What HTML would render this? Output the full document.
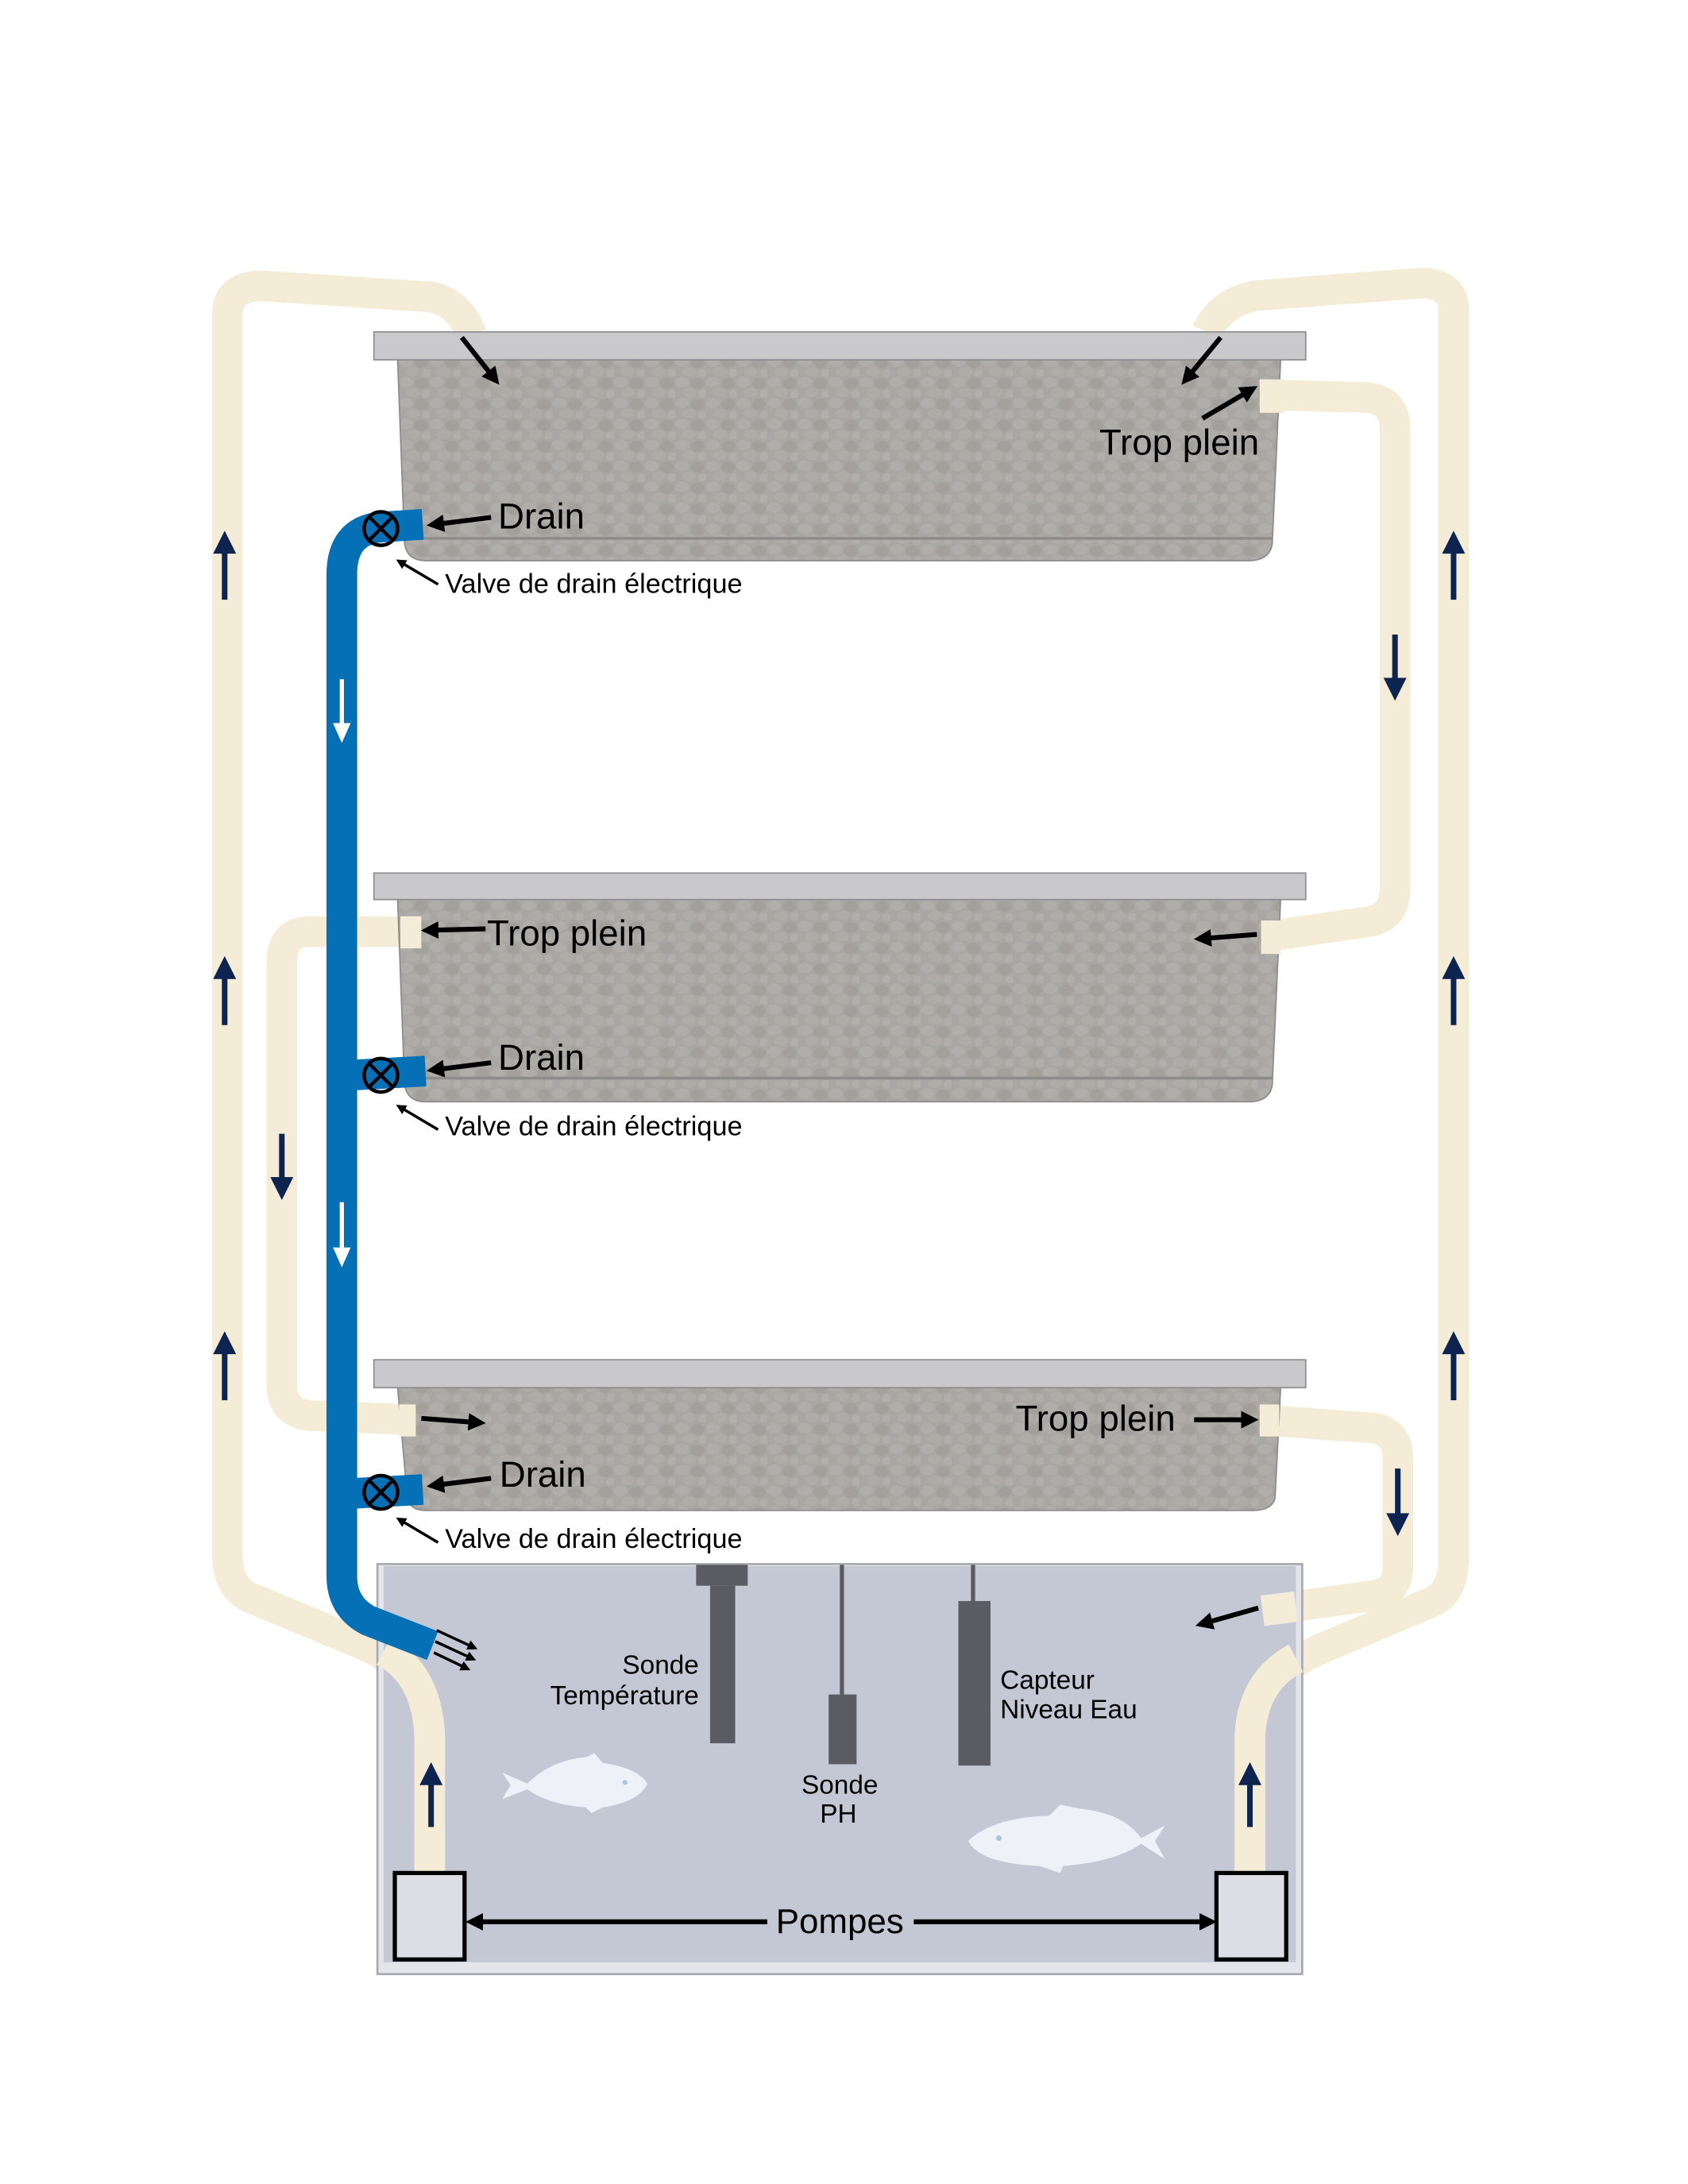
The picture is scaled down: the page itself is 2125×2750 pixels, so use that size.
<!DOCTYPE html>
<html><head><meta charset="utf-8"><style>
html,body{margin:0;padding:0;background:#fff;}
svg{display:block;}
text{font-family:"Liberation Sans",sans-serif;fill:#000;}
</style></head><body>
<svg width="2125" height="2750" viewBox="0 0 1210 1566" xmlns="http://www.w3.org/2000/svg">
<defs>
<pattern id="peb" width="22" height="15" patternUnits="userSpaceOnUse">
<rect width="22" height="15" fill="#a9a7a4"/>
<ellipse cx="5" cy="4" rx="5" ry="3.8" fill="#b0aeaa"/>
<ellipse cx="16" cy="5" rx="5" ry="4" fill="#a3a09c"/>
<ellipse cx="10" cy="11.5" rx="5" ry="3.4" fill="#afaca8"/>
<ellipse cx="20" cy="12.5" rx="3.5" ry="3" fill="#b2afab"/>
</pattern>
<marker id="ah" markerWidth="3.6" markerHeight="3.6" viewBox="0 0 6 6" refX="3" refY="3" orient="auto" markerUnits="strokeWidth"><path d="M0,0 L6,3 L0,6 Z" fill="#000"/></marker>
</defs>

<g fill="none" stroke="#f4ecd6" stroke-width="22" stroke-linejoin="round">
<path d="M308,1345 L308,1245 Q306,1200 262,1180 L178,1145 Q163,1137 163,1115 L163,225 Q163,205 188,205 L310,213 Q330,218 338,240"/>
<path d="M896,1345 L896,1245 Q898,1205 945,1183 L1028,1148 Q1042,1140 1042,1118 L1042,222 Q1042,203 1018,203 L900,212 Q875,217 865,238"/>
<path d="M903,283 L980,285 Q1000,287 1000,307 L1000,638 Q1000,658 980,661 L905,672"/>
<path d="M300,668 L222,668 Q202,668 202,690 L202,993 Q202,1013 222,1015 L296,1018"/>
<path d="M903,1018 L985,1024 Q1002,1027 1002,1045 L1002,1125 Q1002,1141 985,1144 L905,1155"/>
</g>

<rect x="270.5" y="1121.5" width="663" height="294" fill="#e4e5ea" stroke="#a9a9ad" stroke-width="1.5"/>
<rect x="275" y="1123" width="654" height="284" fill="#c4c8d5"/>
<g fill="none" stroke="#f4ecd6" stroke-width="22">
<path d="M308,1345 L308,1245 Q306,1200 275,1184"/>
<path d="M896,1345 L896,1245 Q898,1205 929,1189"/>
<path d="M929,1152 L905,1155"/>
</g>

<g>
<path d="M285,258 L918,258 L912,390 Q910,402 895,402 L305,402 Q292,402 290,390 Z" fill="url(#peb)" stroke="#8d8c8c" stroke-width="1"/>
<line x1="292" y1="386" x2="912" y2="386" stroke="#8e8c8a" stroke-width="2"/>
<rect x="268" y="238" width="668" height="20" fill="#c9c9cb" stroke="#8f8f92" stroke-width="1"/>
<path d="M285,645 L918,645 L912,778 Q910,790 895,790 L305,790 Q292,790 290,778 Z" fill="url(#peb)" stroke="#8d8c8c" stroke-width="1"/>
<line x1="292" y1="773" x2="912" y2="773" stroke="#8e8c8a" stroke-width="2"/>
<rect x="268" y="626" width="668" height="19" fill="#c9c9cb" stroke="#8f8f92" stroke-width="1"/>
<path d="M285,995 L918,995 L914,1074 Q912,1083 898,1083 L305,1083 Q294,1083 292,1074 Z" fill="url(#peb)" stroke="#8d8c8c" stroke-width="1"/>
<rect x="268" y="975" width="668" height="20" fill="#c9c9cb" stroke="#8f8f92" stroke-width="1"/>
</g>
<!-- pipe ends visible at tray walls -->
<g fill="#f4ecd6">
<rect x="903" y="272" width="17" height="24"/>
<rect x="904" y="660" width="14" height="24"/>
<rect x="287" y="657" width="15" height="23"/>
<rect x="286" y="1007" width="12" height="23"/>
<rect x="903" y="1007" width="14" height="23"/>
</g>

<g fill="none" stroke="#0570b5" stroke-width="22">
<path d="M303,376 L272,378 Q245,381 245,412 L245,1130 Q245,1152 264,1162 L310,1180"/>
<path d="M305,768 L250,771"/>
<path d="M303,1068 L250,1071"/>
</g>
<g fill="none" stroke="#000" stroke-width="2.5">
<circle cx="273" cy="379" r="12"/><path d="M264.5,370.5 L281.5,387.5 M281.5,370.5 L264.5,387.5"/>
<circle cx="273" cy="771" r="12"/><path d="M264.5,762.5 L281.5,779.5 M281.5,762.5 L264.5,779.5"/>
<circle cx="273" cy="1070" r="12"/><path d="M264.5,1061.5 L281.5,1078.5 M281.5,1061.5 L264.5,1078.5"/>
</g>

<g stroke="#0d2450" stroke-width="4" fill="#0d2450">
<line x1="161" y1="430" x2="161" y2="393"/><path d="M156,395 L161,385 L166,395 Z"/>
<line x1="161" y1="735" x2="161" y2="698"/><path d="M156,700 L161,690 L166,700 Z"/>
<line x1="161" y1="1004" x2="161" y2="967"/><path d="M156,969 L161,959 L166,969 Z"/>
<line x1="1042" y1="430" x2="1042" y2="393"/><path d="M1037,395 L1042,385 L1047,395 Z"/>
<line x1="1042" y1="735" x2="1042" y2="698"/><path d="M1037,700 L1042,690 L1047,700 Z"/>
<line x1="1042" y1="1004" x2="1042" y2="967"/><path d="M1037,969 L1042,959 L1047,969 Z"/>
<line x1="309" y1="1310" x2="309" y2="1276"/><path d="M304,1278 L309,1268 L314,1278 Z"/>
<line x1="896" y1="1310" x2="896" y2="1276"/><path d="M891,1278 L896,1268 L901,1278 Z"/>
<line x1="1000" y1="455" x2="1000" y2="490"/><path d="M995,488 L1000,498 L1005,488 Z"/>
<line x1="202" y1="813" x2="202" y2="848"/><path d="M197,846 L202,856 L207,846 Z"/>
<line x1="1002" y1="1053" x2="1002" y2="1089"/><path d="M997,1087 L1002,1097 L1007,1087 Z"/>
</g>
<g stroke="#fff" stroke-width="3" fill="#fff">
<line x1="245" y1="487" x2="245" y2="522"/><path d="M241,520 L245,529 L249,520 Z"/>
<line x1="245" y1="862" x2="245" y2="898"/><path d="M241,896 L245,905 L249,896 Z"/>
</g>

<g stroke="#000" stroke-width="3.5" marker-end="url(#ah)" fill="none">
<line x1="331" y1="242" x2="354" y2="271"/>
<line x1="875" y1="242" x2="851" y2="271"/>
<line x1="862" y1="300" x2="896" y2="280"/>
<line x1="352" y1="371" x2="312" y2="376"/>
<line x1="352" y1="762" x2="312" y2="767"/>
<line x1="352" y1="1060" x2="312" y2="1065"/>
<line x1="348" y1="666" x2="308" y2="667"/>
<line x1="901" y1="670" x2="862" y2="673"/>
<line x1="302" y1="1017" x2="342" y2="1020"/>
<line x1="856" y1="1018" x2="896" y2="1018"/>
<line x1="902" y1="1153" x2="863" y2="1164"/>
<line x1="655" y1="1378" x2="866" y2="1378"/>
<line x1="550" y1="1378" x2="340" y2="1378"/>
</g>
<g stroke="#000" stroke-width="2" fill="none">
<line x1="314" y1="419" x2="287" y2="403" marker-end="url(#ah)"/>
<line x1="314" y1="810" x2="287" y2="794" marker-end="url(#ah)"/>
<line x1="314" y1="1106" x2="287" y2="1090" marker-end="url(#ah)"/>
<line x1="313" y1="1169" x2="339" y2="1181" marker-end="url(#ah)"/>
<line x1="312" y1="1177" x2="338" y2="1189" marker-end="url(#ah)"/>
<line x1="311" y1="1185" x2="334" y2="1196" marker-end="url(#ah)"/>
</g>

<g fill="#5a5b63">
<rect x="499" y="1122" width="37" height="15"/>
<rect x="509" y="1137" width="18" height="113"/>
<rect x="602" y="1122" width="3" height="94"/>
<rect x="594" y="1215" width="20" height="50"/>
<rect x="696" y="1122" width="3" height="27"/>
<rect x="687" y="1148" width="23" height="118"/>
</g>

<g fill="#eef1f7">
<path d="M360,1271 L378,1279 Q395,1262 420,1260 L426,1257 L432,1264 Q458,1268 464,1279 Q458,1292 432,1296 L424,1300 L420,1296 Q393,1294 378,1283 L360,1290 L366,1280 Z"/>
<path d="M835,1309 L818,1318 Q805,1300 775,1297 L760,1294 L752,1302 Q712,1303 694,1320 Q702,1336 745,1338 L760,1343 L762,1338 Q800,1335 818,1322 L835,1333 L828,1320 Z"/>
</g>
<circle cx="448" cy="1278" r="1.8" fill="#a9c6de"/>
<circle cx="716" cy="1318" r="2" fill="#a9c6de"/>

<rect x="283" y="1343" width="50" height="62" fill="#dcdde5" stroke="#000" stroke-width="3"/>
<rect x="872" y="1343" width="50" height="62" fill="#dcdde5" stroke="#000" stroke-width="3"/>

<text x="788" y="326" font-size="26">Trop plein</text>
<text x="357" y="379" font-size="26">Drain</text>
<text x="319" y="425" font-size="19.5">Valve de drain électrique</text>
<text x="349" y="678" font-size="26">Trop plein</text>
<text x="357" y="767" font-size="26">Drain</text>
<text x="319" y="814" font-size="19.5">Valve de drain électrique</text>
<text x="728" y="1026" font-size="26">Trop plein</text>
<text x="358" y="1066" font-size="26">Drain</text>
<text x="319" y="1110" font-size="19.5">Valve de drain électrique</text>
<text x="501" y="1200" font-size="19" text-anchor="end">Sonde</text>
<text x="501" y="1222" font-size="19" text-anchor="end">Température</text>
<text x="602" y="1286" font-size="19" text-anchor="middle">Sonde</text>
<text x="601" y="1307" font-size="19" text-anchor="middle">PH</text>
<text x="717" y="1211" font-size="19">Capteur</text>
<text x="717" y="1232" font-size="19">Niveau Eau</text>
<text x="602" y="1386" font-size="25" text-anchor="middle">Pompes</text>
</svg>
</body></html>
